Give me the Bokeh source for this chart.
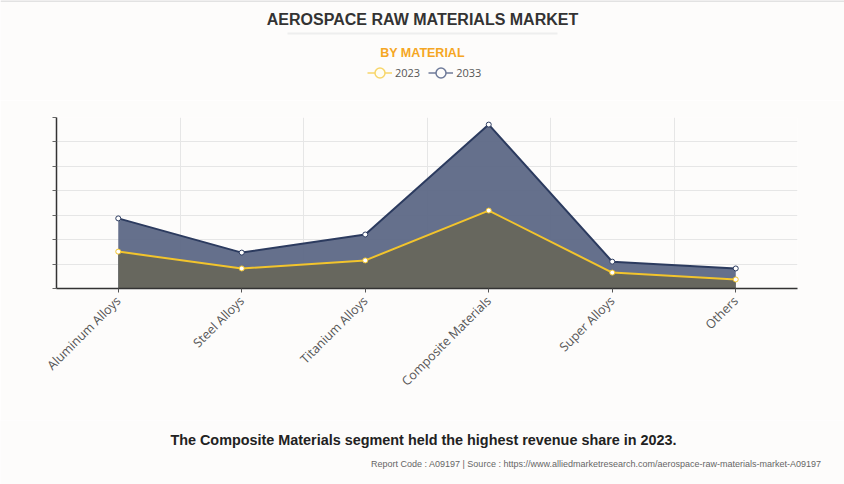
from bokeh.plotting import figure
from bokeh.models import Range1d, FixedTicker, Label, Legend, LegendItem, ColumnDataSource
from bokeh.layouts import column, row
from bokeh.embed import file_html
from bokeh.resources import INLINE

categories = ["Aluminum Alloys", "Steel Alloys", "Titanium Alloys", "Composite Materials", "Super Alloys", "Others"]
values_2023 = [1.51, 0.82, 1.15, 3.19, 0.65, 0.37]
values_2033 = [2.87, 1.47, 2.21, 6.71, 1.10, 0.82]
y_ticks = [0, 1, 2, 3, 4, 5, 6, 7]
series_names = ["2023", "2033"]

BG = "#fdfcfb"
W = 844
H_HEAD, H_MAIN, H_FOOT = 100, 320, 64


def blank(h):
    f = figure(width=W, height=h, output_backend="svg", toolbar_location=None,
               x_range=Range1d(0, W), y_range=Range1d(h, 0),
               min_border=0, min_border_left=0, min_border_right=0, min_border_top=0, min_border_bottom=0,
               background_fill_color=BG, border_fill_color=BG, outline_line_color=None)
    f.axis.visible = False
    f.grid.visible = False
    return f


def lab(f, text, x, y, size, color, font="Liberation Sans", style="bold", align="center"):
    f.add_layout(Label(x=x, y=y, text=text, text_font=font, text_font_size=size, text_color=color,
                       text_font_style=style, text_align=align, text_baseline="middle"))


# ---------- header ----------
head = blank(H_HEAD)
head.line(x=[0, W], y=[0.5, 0.5], line_color="#e2e2e2", line_width=2)
head.line(x=[287, 557], y=[33, 33], line_color="#eeeeee", line_width=2)
lab(head, "AEROSPACE RAW MATERIALS MARKET", 422, 19, "16px", "#333333")
lab(head, "BY MATERIAL", 422, 52, "12.5px", "#f5a623")

off = ColumnDataSource(dict(x=[-1000], y=[-1000]))
hl23 = head.line(x="x", y="y", source=off, line_color="#f7d66a", line_width=1.5)
hc23 = head.scatter(x="x", y="y", source=off, size=10, fill_color="#fffdf3", line_color="#f7d66a", line_width=1.5)
hl33 = head.line(x="x", y="y", source=off, line_color="#6e7a99", line_width=1.5)
hc33 = head.scatter(x="x", y="y", source=off, size=10, fill_color="#fdfcfb", line_color="#6e7a99", line_width=1.5)
legend = Legend(items=[LegendItem(label=series_names[0], renderers=[hl23, hc23]),
                       LegendItem(label=series_names[1], renderers=[hl33, hc33])],
                orientation="horizontal", location=(367, 15),
                background_fill_alpha=0, border_line_color=None,
                label_text_font="Open Sans", label_text_font_size="11px", label_text_color="#555555",
                glyph_width=25, glyph_height=25, spacing=8, padding=0, margin=0, label_standoff=3)
head.add_layout(legend, "center")

# ---------- main chart ----------
xs = list(range(len(categories)))
src = ColumnDataSource(dict(x=xs, a=values_2023, b=values_2033, z=[0] * len(xs)))

p = figure(width=W, height=H_MAIN, output_backend="svg", toolbar_location=None,
           x_range=Range1d(-0.5, len(categories) - 0.5), y_range=Range1d(0, 7),
           min_border_left=56, min_border_right=47, min_border_top=17, min_border_bottom=132,
           background_fill_color=BG, border_fill_color=BG, outline_line_color=None)

p.varea(x="x", y1="z", y2="b", source=src, fill_color="#5d6886", fill_alpha=0.95)
p.varea(x="x", y1="z", y2="a", source=src, fill_color="#67675e", fill_alpha=1.0)
p.line(x="x", y="b", source=src, line_color="#2c3b5f", line_width=2)
p.line(x="x", y="a", source=src, line_color="#f2c42c", line_width=2)
p.scatter(x="x", y="b", source=src, size=5, fill_color="white", line_color="#2c3b5f", line_width=1)
p.scatter(x="x", y="a", source=src, size=5, fill_color="white", line_color="#f2c42c", line_width=1)

p.xaxis.ticker = FixedTicker(ticks=xs)
p.xaxis.major_label_overrides = {i: c for i, c in enumerate(categories)}
p.xaxis.major_label_orientation = 0.785398
p.xaxis.major_label_text_font = "Open Sans"
p.xaxis.major_label_text_font_size = "12.5px"
p.xaxis.major_label_text_color = "#555555"
p.xaxis.axis_line_color = "#333333"
p.xaxis.axis_line_width = 1.5
p.xaxis.major_tick_line_color = "#555555"
p.xaxis.major_tick_out = 4
p.xaxis.major_tick_in = 0
p.xaxis.minor_tick_line_color = None
p.xaxis.major_label_standoff = 6

p.yaxis.ticker = FixedTicker(ticks=y_ticks)
p.yaxis.major_label_text_font_size = "0px"
p.yaxis.major_label_text_color = None
p.yaxis.axis_line_color = "#333333"
p.yaxis.axis_line_width = 1.5
p.yaxis.major_tick_line_color = "#666666"
p.yaxis.major_tick_out = 4
p.yaxis.major_tick_in = 0
p.yaxis.minor_tick_line_color = None

p.xgrid.ticker = FixedTicker(ticks=[i + 0.5 for i in xs])
p.xgrid.grid_line_color = "#e6e6e6"
p.ygrid.ticker = FixedTicker(ticks=y_ticks)
p.ygrid.grid_line_color = "#e6e6e6"

# ---------- footer ----------
foot = blank(H_FOOT)
lab(foot, "The Composite Materials segment held the highest revenue share in 2023.", 423, 19, "14.4px", "#222222")
lab(foot, "Report Code : A09197  |  Source : https://www.alliedmarketresearch.com/aerospace-raw-materials-market-A09197",
    826, 43, "9px", "#666666", font="Liberation Sans", style="normal", align="right")

layout = column(row(head), row(p), row(foot), spacing=0)
open("out.html", "w").write(file_html(layout, INLINE))
